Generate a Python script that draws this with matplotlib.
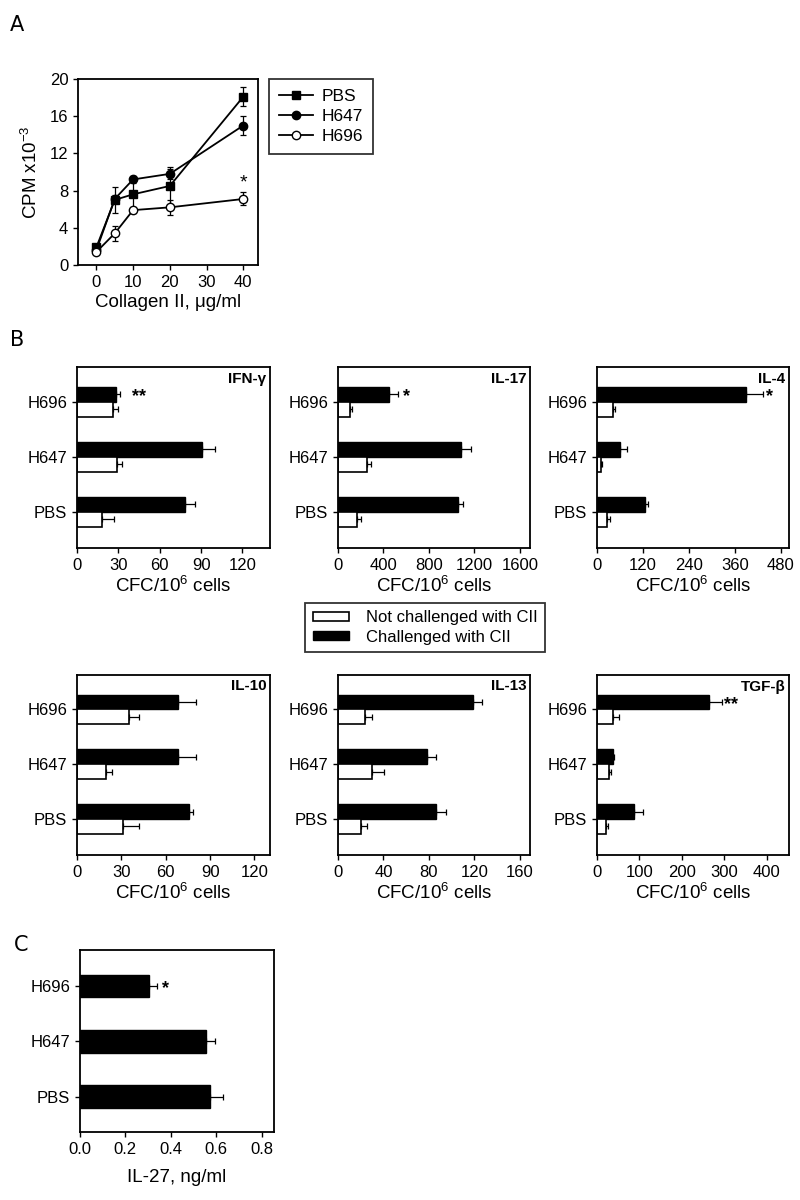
import matplotlib
matplotlib.use("Agg")
import matplotlib.pyplot as plt
from matplotlib.patches import Patch
from matplotlib.lines import Line2D

plt.rcParams['font.family'] = ['Liberation Sans', 'DejaVu Sans']
plt.rcParams['mathtext.fontset'] = 'custom'
plt.rcParams['mathtext.rm'] = 'Liberation Sans'
plt.rcParams['mathtext.it'] = 'Liberation Sans:italic'
plt.rcParams['mathtext.default'] = 'regular'

# ---------------- Panel A data ----------------
conc = [0, 5, 10, 20, 40]
pbs_cpm = [1.9, 7.0, 7.6, 8.5, 18.1]
pbs_err = [0.3, 1.4, 1.6, 2.0, 1.0]
h647_cpm = [1.6, 7.1, 9.2, 9.8, 15.0]
h647_err = [0.2, 0.4, 0.4, 0.5, 1.0]
h696_cpm = [1.4, 3.4, 5.9, 6.2, 7.1]
h696_err = [0.2, 0.8, 0.3, 0.8, 0.7]

# ---------------- Panel B data ----------------
groups = ["PBS", "H647", "H696"]
ifn_ch = [78.3, 90.4, 28.4]
ifn_ch_err = [7.3, 9.5, 3.1]
ifn_no = [18.2, 29.0, 25.9]
ifn_no_err = [9.0, 3.7, 3.9]

il17_ch = [1058, 1079, 453]
il17_ch_err = [44, 91, 79]
il17_no = [167, 254, 108]
il17_no_err = [35, 38, 15]

il4_ch = [126, 61, 390]
il4_ch_err = [7, 17, 43]
il4_no = [27, 10, 42]
il4_no_err = [6, 2, 6]

il10_ch = [75.5, 68.3, 68.3]
il10_ch_err = [2.7, 11.9, 11.9]
il10_no = [31.0, 19.8, 35.0]
il10_no_err = [11.0, 4.0, 7.2]

il13_ch = [85.9, 78.0, 118.7]
il13_ch_err = [8.8, 8.2, 7.7]
il13_no = [20.5, 30.2, 23.5]
il13_no_err = [4.7, 10.3, 6.1]

tgf_ch = [86, 37, 263]
tgf_ch_err = [22, 4, 31]
tgf_no = [22, 29, 37]
tgf_no_err = [5, 4, 14]

# ---------------- Panel C data ----------------
il27 = [0.573, 0.555, 0.305]
il27_err = [0.058, 0.040, 0.035]

W, H = 800, 1200
fig = plt.figure(figsize=(8, 12), dpi=100)

TICK = 12
LAB = 13.5


def add_ax(l, r, t, b):
    return fig.add_axes([l / W, 1 - b / H, (r - l) / W, (b - t) / H])


def style(ax):
    for s in ax.spines.values():
        s.set_linewidth(1.3)
    ax.tick_params(direction='out', length=3.5, width=1.0, labelsize=TICK)


# ---------------- Panel A ----------------
fig.text(10 / W, 1 - 25 / H, "A", fontsize=15, family='DejaVu Sans', va='center', ha='left')
axA = add_ax(78, 258, 79, 265)
style(axA)
ek = dict(capsize=2.5, elinewidth=0.9, capthick=0.9, ecolor='black')
axA.errorbar(conc, pbs_cpm, yerr=pbs_err, color='black', lw=1.3, marker='s', ms=5.5,
             mfc='black', mec='black', label='PBS', **ek)
axA.errorbar(conc, h647_cpm, yerr=h647_err, color='black', lw=1.3, marker='o', ms=6,
             mfc='black', mec='black', label='H647', **ek)
axA.errorbar(conc, h696_cpm, yerr=h696_err, color='black', lw=1.3, marker='o', ms=6,
             mfc='white', mec='black', label='H696', **ek)
axA.text(40, 7.9, "*", ha='center', va='bottom', fontsize=14)
axA.set_xlim(-5, 44)
axA.set_ylim(0, 20)
axA.set_xticks([0, 10, 20, 30, 40])
axA.set_yticks([0, 4, 8, 12, 16, 20])
axA.set_xlabel("Collagen II, \u03bcg/ml", fontsize=LAB, labelpad=3)
axA.set_ylabel("CPM x10$^{-3}$", fontsize=LAB, labelpad=6)
handlesA = [Line2D([], [], color='black', lw=1.3, marker='s', ms=5.5, mfc='black'),
            Line2D([], [], color='black', lw=1.3, marker='o', ms=6, mfc='black'),
            Line2D([], [], color='black', lw=1.3, marker='o', ms=6, mfc='white', mec='black')]
legA = fig.legend(handlesA, ["PBS", "H647", "H696"], loc='upper left',
                  bbox_to_anchor=(269 / W, 1 - 79 / H), fontsize=12.5, frameon=True,
                  fancybox=False, edgecolor='black', handlelength=2.0, borderpad=0.55,
                  labelspacing=0.3, borderaxespad=0, handletextpad=0.5)
legA.get_frame().set_linewidth(1.3)

# ---------------- Panel B ----------------
fig.text(10 / W, 1 - 340 / H, "B", fontsize=15, family='DejaVu Sans', va='center', ha='left')

ypos = [0, 1, 2]
bh = 0.27


def cyto_panel(box, name, ch, ch_err, no, no_err, xmax, xticks, stars=None, star_x=None):
    ax = add_ax(*box)
    style(ax)
    yc = [y + bh / 2 for y in ypos]
    yn = [y - bh / 2 for y in ypos]
    ax.barh(yc, ch, height=bh, color='black', edgecolor='black', linewidth=1.0)
    ax.barh(yn, no, height=bh, color='white', edgecolor='black', linewidth=1.2)
    ax.errorbar(ch, yc, xerr=[[0] * 3, ch_err], fmt='none', ecolor='black',
                elinewidth=0.9, capsize=2.5, capthick=0.9)
    ax.errorbar(no, yn, xerr=[[0] * 3, no_err], fmt='none', ecolor='black',
                elinewidth=0.9, capsize=2.5, capthick=0.9)
    ax.set_xlim(0, xmax)
    ax.set_ylim(-0.66, 2.63)
    ax.set_xticks(xticks)
    ax.set_yticks(ypos)
    ax.set_yticklabels(groups)
    ax.set_xlabel("CFC/10$^{6}$ cells", fontsize=LAB, labelpad=2)
    ax.text(0.98, 0.975, name, transform=ax.transAxes, ha='right', va='top',
            fontsize=11, fontweight='bold')
    if stars:
        ax.text(star_x, 2 + bh / 2 - 0.05, stars, ha='left', va='center', fontsize=13,
                fontweight='bold')
    return ax


cyto_panel((77, 270, 367, 548), "IFN-\u03b3", ifn_ch, ifn_ch_err, ifn_no, ifn_no_err,
           140, [0, 30, 60, 90, 120], "**", 40)
cyto_panel((338, 530, 367, 548), "IL-17", il17_ch, il17_ch_err, il17_no, il17_no_err,
           1690, [0, 400, 800, 1200, 1600], "*", 570)
cyto_panel((597, 789, 367, 548), "IL-4", il4_ch, il4_ch_err, il4_no, il4_no_err,
           502, [0, 120, 240, 360, 480], "*", 443)
cyto_panel((77, 270, 675, 855), "IL-10", il10_ch, il10_ch_err, il10_no, il10_no_err,
           130.5, [0, 30, 60, 90, 120])
cyto_panel((338, 530, 675, 855), "IL-13", il13_ch, il13_ch_err, il13_no, il13_no_err,
           169, [0, 40, 80, 120, 160])
cyto_panel((597, 789, 675, 855), "TGF-\u03b2", tgf_ch, tgf_ch_err, tgf_no, tgf_no_err,
           452, [0, 100, 200, 300, 400], "**", 300)

legB = fig.legend([Patch(facecolor='white', edgecolor='black', linewidth=1.2),
                   Patch(facecolor='black', edgecolor='black')],
                  ["Not challenged with CII", "Challenged with CII"],
                  loc='upper left', bbox_to_anchor=(305 / W, 1 - 603 / H), fontsize=12,
                  frameon=True, fancybox=False, edgecolor='black', handlelength=2.2,
                  handleheight=0.5, borderpad=0.45, labelspacing=0.25, borderaxespad=0,
                  handletextpad=1.0)
legB.get_frame().set_linewidth(1.3)

# ---------------- Panel C ----------------
fig.text(14 / W, 1 - 945 / H, "C", fontsize=15, family='DejaVu Sans', va='center', ha='left')
axC = add_ax(80, 274, 950, 1132)
style(axC)
axC.barh(ypos, il27, height=0.41, color='black', edgecolor='black')
axC.errorbar(il27, ypos, xerr=[[0] * 3, il27_err], fmt='none', ecolor='black',
             elinewidth=0.9, capsize=2.5, capthick=0.9)
axC.text(0.36, 1.96, "*", ha='left', va='center', fontsize=13, fontweight='bold')
axC.set_xlim(0, 0.855)
axC.set_ylim(-0.64, 2.65)
axC.set_xticks([0.0, 0.2, 0.4, 0.6, 0.8])
axC.set_xticklabels(["0.0", "0.2", "0.4", "0.6", "0.8"])
axC.set_yticks(ypos)
axC.set_yticklabels(groups)
axC.set_xlabel("IL-27, ng/ml", fontsize=LAB, labelpad=9)

fig.savefig("out.png", dpi=100)
